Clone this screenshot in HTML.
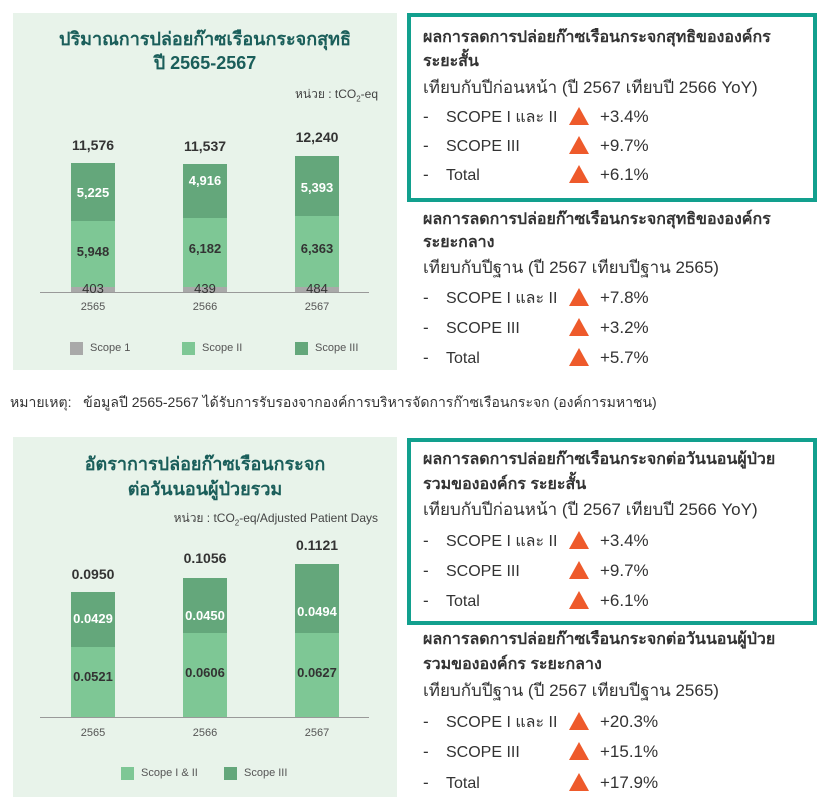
<!DOCTYPE html>
<html><head><meta charset="utf-8"><style>
body{margin:0;width:832px;height:805px;background:#fff;font-family:"Liberation Sans","Noto Sans CJK SC",sans-serif;color:#333;position:relative;overflow:hidden}
.a{position:absolute;white-space:nowrap;line-height:1}
.panel{position:absolute;background:#e8f3ea}
.bar{position:absolute}
.s1{background:#a9a9a9}.s2{background:#7ec795}.s3{background:#64a77b}
.v{position:absolute;font-weight:bold;font-size:13px;text-align:center;width:60px;line-height:1}
.box{position:absolute;border:4px solid #12a08e;box-sizing:border-box}
.t{font-size:16px;font-weight:bold}
.n{font-size:17px}
.l{font-size:16px;margin-top:2px}
.tri{position:absolute;width:0;height:0;border-left:10px solid transparent;border-right:10px solid transparent;border-bottom:18px solid #ee5a2b}
.sq{position:absolute;width:13px;height:13px}
.lg{font-size:11px;color:#555}
</style></head><body>

<!-- Panel 1 -->
<div class="panel" style="left:13px;top:13px;width:384px;height:357px"></div>
<div class="a" style="left:13px;width:384px;text-align:center;top:30px;font-size:18px;font-weight:bold;color:#1a5e5a">ปริมาณการปล่อยก๊าซเรือนกระจกสุทธิ</div>
<div class="a" style="left:13px;width:384px;text-align:center;top:54px;font-size:18px;font-weight:bold;color:#1a5e5a">ปี 2565-2567</div>
<div class="a" style="right:454px;top:88px;font-size:12px;color:#444">หน่วย : tCO<sub style="font-size:8px">2</sub>-eq</div>
<div class="bar s3" style="left:71px;top:163px;width:44px;height:58px"></div>
<div class="bar s2" style="left:71px;top:221px;width:44px;height:66px"></div>
<div class="bar s1" style="left:71px;top:287px;width:44px;height:5px"></div>
<div class="bar s3" style="left:183px;top:164px;width:44px;height:54px"></div>
<div class="bar s2" style="left:183px;top:218px;width:44px;height:69px"></div>
<div class="bar s1" style="left:183px;top:287px;width:44px;height:5px"></div>
<div class="bar s3" style="left:295px;top:156px;width:44px;height:60px"></div>
<div class="bar s2" style="left:295px;top:216px;width:44px;height:71px"></div>
<div class="bar s1" style="left:295px;top:287px;width:44px;height:5px"></div>
<div style="position:absolute;left:40px;top:292px;width:329px;height:1px;background:#999"></div>
<div class="v" style="left:63px;top:138px;font-size:14px">11,576</div>
<div class="v" style="left:175px;top:139px;font-size:14px">11,537</div>
<div class="v" style="left:287px;top:130px;font-size:14px">12,240</div>
<div class="v" style="left:63px;top:186px;color:#fff">5,225</div>
<div class="v" style="left:175px;top:174px;color:#fff">4,916</div>
<div class="v" style="left:287px;top:181px;color:#fff">5,393</div>
<div class="v" style="left:63px;top:245px">5,948</div>
<div class="v" style="left:175px;top:242px">6,182</div>
<div class="v" style="left:287px;top:242px">6,363</div>
<div class="v" style="left:63px;top:282px;font-weight:normal">403</div>
<div class="v" style="left:175px;top:282px;font-weight:normal">439</div>
<div class="v" style="left:287px;top:282px;font-weight:normal">484</div>
<div class="v lg" style="left:63px;top:302px;font-weight:normal">2565</div>
<div class="v lg" style="left:175px;top:302px;font-weight:normal">2566</div>
<div class="v lg" style="left:287px;top:302px;font-weight:normal">2567</div>
<div class="sq s1" style="left:70px;top:342px"></div><div class="a lg" style="left:90px;top:343px">Scope 1</div>
<div class="sq s2" style="left:182px;top:342px"></div><div class="a lg" style="left:202px;top:343px">Scope II</div>
<div class="sq s3" style="left:295px;top:342px"></div><div class="a lg" style="left:315px;top:343px">Scope III</div>

<div class="a" style="left:10px;top:395px;font-size:14px">หมายเหตุ: &nbsp;&nbsp;ข้อมูลปี 2565-2567 ได้รับการรับรองจากองค์การบริหารจัดการก๊าซเรือนกระจก (องค์การมหาชน)</div>

<!-- Panel 2 -->
<div class="panel" style="left:13px;top:437px;width:384px;height:360px"></div>
<div class="a" style="left:13px;width:384px;text-align:center;top:455px;font-size:18px;font-weight:bold;color:#1a5e5a">อัตราการปล่อยก๊าซเรือนกระจก</div>
<div class="a" style="left:13px;width:384px;text-align:center;top:480px;font-size:18px;font-weight:bold;color:#1a5e5a">ต่อวันนอนผู้ป่วยรวม</div>
<div class="a" style="right:454px;top:512px;font-size:12px;color:#444">หน่วย : tCO<sub style="font-size:8px">2</sub>-eq/Adjusted Patient Days</div>
<div class="bar s3" style="left:71px;top:592px;width:44px;height:55px"></div>
<div class="bar s2" style="left:71px;top:647px;width:44px;height:70px"></div>
<div class="bar s3" style="left:183px;top:578px;width:44px;height:55px"></div>
<div class="bar s2" style="left:183px;top:633px;width:44px;height:84px"></div>
<div class="bar s3" style="left:295px;top:564px;width:44px;height:69px"></div>
<div class="bar s2" style="left:295px;top:633px;width:44px;height:84px"></div>
<div style="position:absolute;left:40px;top:717px;width:329px;height:1px;background:#999"></div>
<div class="v" style="left:63px;top:567px;font-size:14px">0.0950</div>
<div class="v" style="left:175px;top:551px;font-size:14px">0.1056</div>
<div class="v" style="left:287px;top:538px;font-size:14px">0.1121</div>
<div class="v" style="left:63px;top:612px;color:#fff">0.0429</div>
<div class="v" style="left:175px;top:609px;color:#fff">0.0450</div>
<div class="v" style="left:287px;top:605px;color:#fff">0.0494</div>
<div class="v" style="left:63px;top:670px">0.0521</div>
<div class="v" style="left:175px;top:666px">0.0606</div>
<div class="v" style="left:287px;top:666px">0.0627</div>
<div class="v lg" style="left:63px;top:728px;font-weight:normal">2565</div>
<div class="v lg" style="left:175px;top:728px;font-weight:normal">2566</div>
<div class="v lg" style="left:287px;top:728px;font-weight:normal">2567</div>
<div class="sq s2" style="left:121px;top:767px"></div><div class="a lg" style="left:141px;top:768px">Scope I &amp; II</div>
<div class="sq s3" style="left:224px;top:767px"></div><div class="a lg" style="left:244px;top:768px">Scope III</div>

<!-- Right text -->
<div class="box" style="left:407px;top:13px;width:410px;height:189px"></div>
<div class="a t" style="left:423px;top:30px">ผลการลดการปล่อยก๊าซเรือนกระจกสุทธิขององค์กร</div>
<div class="a t" style="left:423px;top:54px">ระยะสั้น</div>
<div class="a n" style="left:423px;top:79px">เทียบกับปีก่อนหน้า (ปี 2567 เทียบปี 2566 YoY)</div>
<div class="a n" style="left:423px;top:108px">-</div><div class="a l" style="left:446px;top:108px">SCOPE I และ II</div><div class="tri" style="left:569px;top:107px"></div><div class="a n" style="left:600px;top:108px">+3.4%</div>
<div class="a n" style="left:423px;top:137px">-</div><div class="a l" style="left:446px;top:137px">SCOPE III</div><div class="tri" style="left:569px;top:136px"></div><div class="a n" style="left:600px;top:137px">+9.7%</div>
<div class="a n" style="left:423px;top:166px">-</div><div class="a l" style="left:446px;top:166px">Total</div><div class="tri" style="left:569px;top:165px"></div><div class="a n" style="left:600px;top:166px">+6.1%</div>

<div class="a t" style="left:423px;top:212px">ผลการลดการปล่อยก๊าซเรือนกระจกสุทธิขององค์กร</div>
<div class="a t" style="left:423px;top:235px">ระยะกลาง</div>
<div class="a n" style="left:423px;top:259px">เทียบกับปีฐาน (ปี 2567 เทียบปีฐาน 2565)</div>
<div class="a n" style="left:423px;top:289px">-</div><div class="a l" style="left:446px;top:289px">SCOPE I และ II</div><div class="tri" style="left:569px;top:288px"></div><div class="a n" style="left:600px;top:289px">+7.8%</div>
<div class="a n" style="left:423px;top:319px">-</div><div class="a l" style="left:446px;top:319px">SCOPE III</div><div class="tri" style="left:569px;top:318px"></div><div class="a n" style="left:600px;top:319px">+3.2%</div>
<div class="a n" style="left:423px;top:349px">-</div><div class="a l" style="left:446px;top:349px">Total</div><div class="tri" style="left:569px;top:348px"></div><div class="a n" style="left:600px;top:349px">+5.7%</div>

<div class="box" style="left:407px;top:438px;width:410px;height:187px"></div>
<div class="a t" style="left:423px;top:452px">ผลการลดการปล่อยก๊าซเรือนกระจกต่อวันนอนผู้ป่วย</div>
<div class="a t" style="left:423px;top:477px">รวมขององค์กร ระยะสั้น</div>
<div class="a n" style="left:423px;top:501px">เทียบกับปีก่อนหน้า (ปี 2567 เทียบปี 2566 YoY)</div>
<div class="a n" style="left:423px;top:532px">-</div><div class="a l" style="left:446px;top:532px">SCOPE I และ II</div><div class="tri" style="left:569px;top:531px"></div><div class="a n" style="left:600px;top:532px">+3.4%</div>
<div class="a n" style="left:423px;top:562px">-</div><div class="a l" style="left:446px;top:562px">SCOPE III</div><div class="tri" style="left:569px;top:561px"></div><div class="a n" style="left:600px;top:562px">+9.7%</div>
<div class="a n" style="left:423px;top:592px">-</div><div class="a l" style="left:446px;top:592px">Total</div><div class="tri" style="left:569px;top:591px"></div><div class="a n" style="left:600px;top:592px">+6.1%</div>

<div class="a t" style="left:423px;top:632px">ผลการลดการปล่อยก๊าซเรือนกระจกต่อวันนอนผู้ป่วย</div>
<div class="a t" style="left:423px;top:657px">รวมขององค์กร ระยะกลาง</div>
<div class="a n" style="left:423px;top:682px">เทียบกับปีฐาน (ปี 2567 เทียบปีฐาน 2565)</div>
<div class="a n" style="left:423px;top:713px">-</div><div class="a l" style="left:446px;top:713px">SCOPE I และ II</div><div class="tri" style="left:569px;top:712px"></div><div class="a n" style="left:600px;top:713px">+20.3%</div>
<div class="a n" style="left:423px;top:743px">-</div><div class="a l" style="left:446px;top:743px">SCOPE III</div><div class="tri" style="left:569px;top:742px"></div><div class="a n" style="left:600px;top:743px">+15.1%</div>
<div class="a n" style="left:423px;top:774px">-</div><div class="a l" style="left:446px;top:774px">Total</div><div class="tri" style="left:569px;top:773px"></div><div class="a n" style="left:600px;top:774px">+17.9%</div>
</body></html>
